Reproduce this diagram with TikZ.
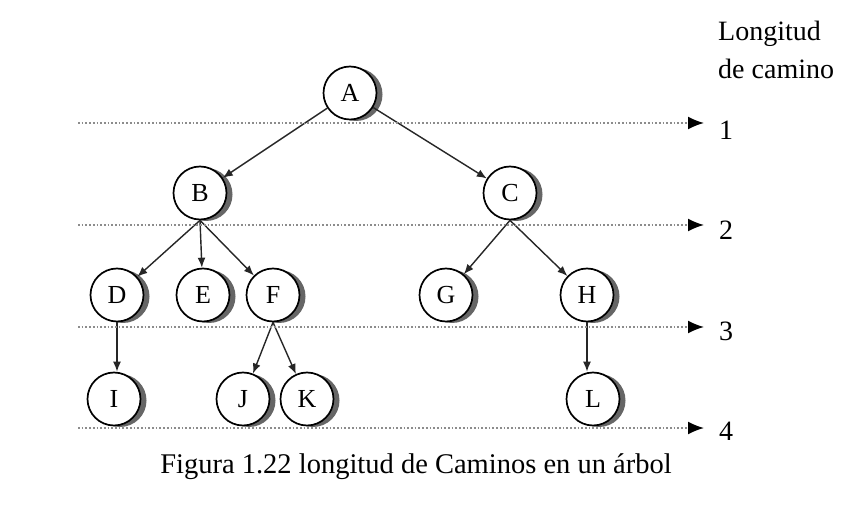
\documentclass[tikz,border=0pt]{standalone}
\usepackage{fontspec}
\setmainfont{Liberation Serif}
\usepackage{tikz}
\usetikzlibrary{arrows.meta,shadows}

\begin{document}
\begin{tikzpicture}
    [every node/.style={inner sep=0pt},
     vertex/.style={circle, minimum size=53pt, fill=white, line width=1.7pt, draw=black,
        drop shadow={shadow xshift=6pt, shadow yshift=-1.5pt, fill=black!60, opacity=1},
        font=\fontsize{26}{26}\selectfont},
     edge/.style={line width=1.4pt, -{Latex[length=10pt,width=8pt]}, color=black!85},
     level/.style={line width=1.7pt, dotted, color=black!45, -{Latex[length=16pt,width=13pt,color=black]}},
     txt/.style={font=\fontsize{28}{30}\selectfont, anchor=west}]
        \useasboundingbox (0pt, 0pt) rectangle (856pt, -518pt);
        \node (A) [vertex] at (350.0pt, -93.0pt) {A};
        \node (B) [vertex] at (200.0pt, -193.0pt) {B};
        \node (C) [vertex] at (510.0pt, -193.0pt) {C};
        \node (D) [vertex] at (117.0pt, -295.0pt) {D};
        \node (E) [vertex] at (203.0pt, -295.0pt) {E};
        \node (F) [vertex] at (273.0pt, -295.0pt) {F};
        \node (G) [vertex] at (446.0pt, -295.0pt) {G};
        \node (H) [vertex] at (587.0pt, -295.0pt) {H};
        \node (I) [vertex] at (114.0pt, -399.0pt) {I};
        \node (J) [vertex] at (243.0pt, -399.0pt) {J};
        \node (K) [vertex] at (307.0pt, -399.0pt) {K};
        \node (L) [vertex] at (593.0pt, -399.0pt) {L};
        \draw [edge] (A) to (B);
        \draw [edge] (A) to (C);
        \draw [edge] (B.south) to (D);
        \draw [edge] (B.south) to (E);
        \draw [edge] (B.south) to (F);
        \draw [edge] (C.south) to (G);
        \draw [edge] (C.south) to (H);
        \draw [edge] (D.south) to (D.south |- I.north);
        \draw [edge] (F.south) to (J);
        \draw [edge] (F.south) to (K);
        \draw [edge] (H.south) to (H.south |- L.north);
        % longitud de camino
        \node (T1) [txt] at (718.0pt, -34.0pt) {Longitud};
        \node (T2) [txt] at (718.0pt, -69.0pt) {de camino};
        \node (N1) [txt] at (719.0pt, -130.0pt) {1};
        \node (N2) [txt] at (719.0pt, -230.0pt) {2};
        \node (N3) [txt] at (719.0pt, -331.0pt) {3};
        \node (N4) [txt] at (719.0pt, -431.0pt) {4};
        \coordinate (S1) at (78.0pt, -123.0pt);
        \coordinate (S2) at (78.0pt, -225.0pt);
        \coordinate (S3) at (78.0pt, -327.0pt);
        \coordinate (S4) at (78.0pt, -428.0pt);
        \draw [level, shorten >=15pt] (S1) to (S1 -| N1.west);
        \draw [level, shorten >=15pt] (S2) to (S2 -| N2.west);
        \draw [level, shorten >=15pt] (S3) to (S3 -| N3.west);
        \draw [level, shorten >=15pt] (S4) to (S4 -| N4.west);
        \node (cap) [font=\fontsize{28.5}{30}\selectfont] at (416.0pt, -467.0pt) {Figura 1.22 longitud de Caminos en un árbol};
    \end{tikzpicture}
\end{document}
